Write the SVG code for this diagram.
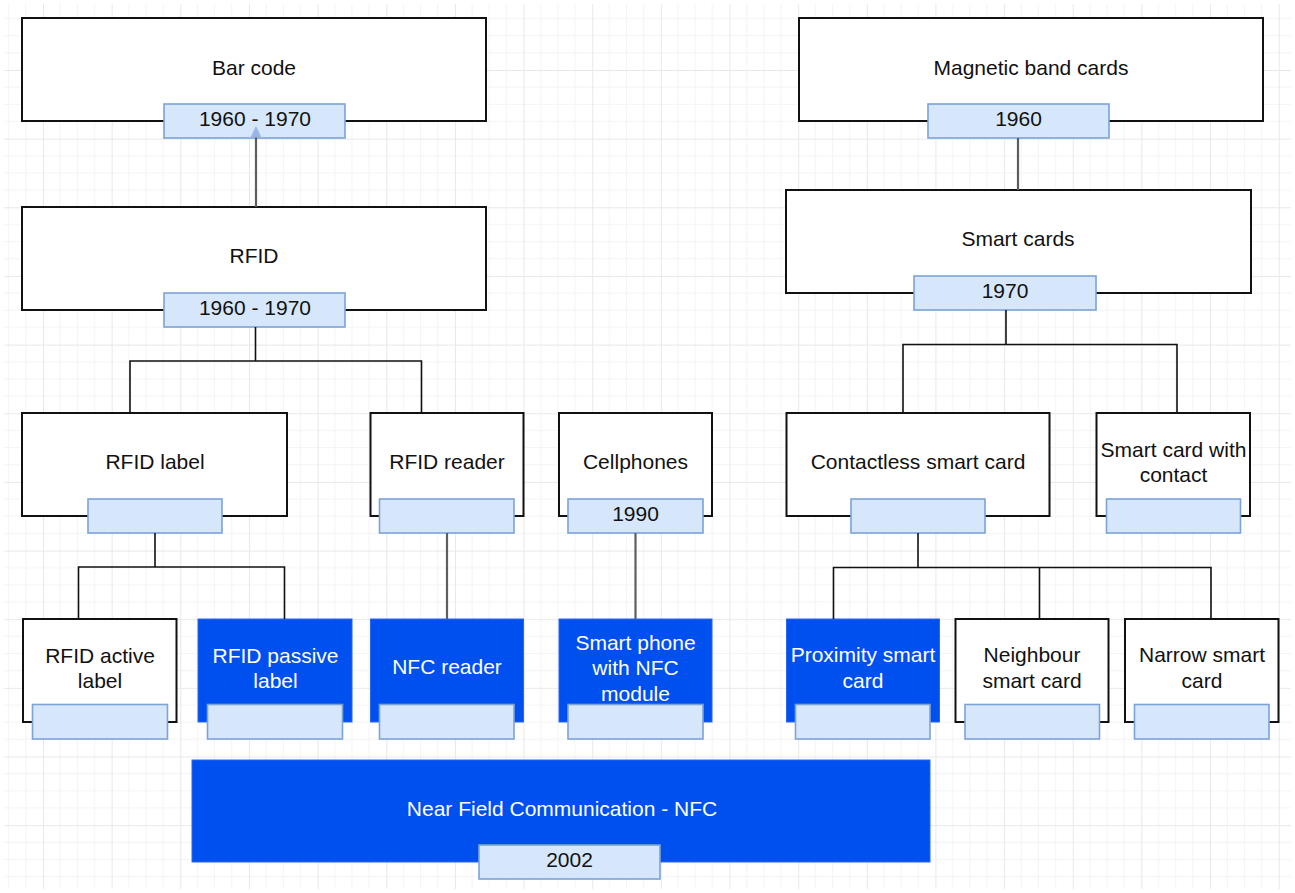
<svg xmlns="http://www.w3.org/2000/svg" width="1295" height="893" viewBox="0 0 1295 893">
  <defs>
    <pattern id="grid" patternUnits="userSpaceOnUse" x="43" y="1.35" width="68.65" height="68.65">
      <path d="M17.16 0V68.65M34.33 0V68.65M51.49 0V68.65M0 17.16H68.65M0 34.33H68.65M0 51.49H68.65" stroke="#f4f4f4" stroke-width="1" fill="none"/>
      <path d="M0.5 0V68.65M0 0.5H68.65" stroke="#e8e8e8" stroke-width="1" fill="none"/>
    </pattern>
    <style>
      .n { fill: #ffffff; stroke: #111111; stroke-width: 2; }
      .b { fill: #0050ef; stroke: #2a66ee; stroke-width: 1; }
      .l { fill: #d6e7fc; stroke: #7ca3d6; stroke-width: 1.6; }
      .t { font-family: "Liberation Sans", Arial, Helvetica, sans-serif; font-size: 21px; text-anchor: middle; fill: #111111; }
      .w { fill: #ffffff; }
      .k { fill: none; stroke: #111111; stroke-width: 1.6; }
      .g { fill: none; stroke: #5e5e5e; stroke-width: 2.2; }
    </style>
  </defs>
  <rect x="0" y="0" width="1295" height="893" fill="#ffffff"/>
  <rect x="4" y="4" width="1287" height="885" fill="url(#grid)"/>

  <g id="bar-code">
    <rect class="n" x="22" y="18" width="464" height="103"/>
    <text class="t" x="254" y="75">Bar code</text>
    <rect class="l" x="164" y="104" width="181" height="34"/>
    <text class="t" x="255" y="126">1960 - 1970</text>
  </g>
  <g id="rfid">
    <rect class="n" x="22" y="207" width="464" height="103"/>
    <text class="t" x="254" y="263">RFID</text>
    <rect class="l" x="164" y="293" width="181" height="34"/>
    <text class="t" x="255" y="315">1960 - 1970</text>
  </g>
  <g id="magnetic-band-cards">
    <rect class="n" x="799" y="18" width="464" height="103"/>
    <text class="t" x="1031" y="75">Magnetic band cards</text>
    <rect class="l" x="928" y="104" width="181" height="34"/>
    <text class="t" x="1018.5" y="126">1960</text>
  </g>
  <g id="smart-cards">
    <rect class="n" x="786" y="190" width="465" height="103"/>
    <text class="t" x="1018" y="246">Smart cards</text>
    <rect class="l" x="914" y="276" width="182" height="34"/>
    <text class="t" x="1005" y="298">1970</text>
  </g>
  <g id="rfid-label">
    <rect class="n" x="22" y="413" width="265" height="103"/>
    <text class="t" x="155" y="469">RFID label</text>
    <rect class="l" x="88" y="499" width="134" height="34"/>
  </g>
  <g id="rfid-reader">
    <rect class="n" x="370.5" y="413" width="153" height="103"/>
    <text class="t" x="447" y="469">RFID reader</text>
    <rect class="l" x="379.5" y="499" width="134.5" height="34"/>
  </g>
  <g id="cellphones">
    <rect class="n" x="559" y="413" width="153" height="103"/>
    <text class="t" x="635.5" y="469">Cellphones</text>
    <rect class="l" x="568" y="499" width="135" height="34"/>
    <text class="t" x="635.5" y="521">1990</text>
  </g>
  <g id="contactless-smart-card">
    <rect class="n" x="786.5" y="413" width="263" height="103"/>
    <text class="t" x="918" y="469">Contactless smart card</text>
    <rect class="l" x="851" y="499" width="134" height="34"/>
  </g>
  <g id="smart-card-with-contact">
    <rect class="n" x="1096.5" y="413" width="153.5" height="103"/>
    <text class="t" x="1173.5" y="457">Smart card with</text>
    <text class="t" x="1173.5" y="482">contact</text>
    <rect class="l" x="1106.5" y="499" width="134" height="34"/>
  </g>
  <g id="rfid-active-label">
    <rect class="n" x="23" y="619" width="153.5" height="103"/>
    <text class="t" x="100" y="662.5">RFID active</text>
    <text class="t" x="100" y="687.5">label</text>
    <rect class="l" x="32.5" y="704.5" width="135" height="34.5"/>
  </g>
  <g id="rfid-passive-label">
    <rect class="b" x="198" y="619" width="154" height="103"/>
    <text class="t w" x="275.5" y="662.5">RFID passive</text>
    <text class="t w" x="275.5" y="687.5">label</text>
    <rect class="l" x="207.5" y="704.5" width="135" height="34.5"/>
  </g>
  <g id="nfc-reader">
    <rect class="b" x="370.5" y="619" width="153" height="103"/>
    <text class="t w" x="447" y="674">NFC reader</text>
    <rect class="l" x="379.5" y="704.5" width="134.5" height="34.5"/>
  </g>
  <g id="smart-phone-nfc">
    <rect class="b" x="559" y="619" width="153" height="103"/>
    <text class="t w" x="635.5" y="649.5">Smart phone</text>
    <text class="t w" x="635.5" y="675">with NFC</text>
    <text class="t w" x="635.5" y="700.5">module</text>
    <rect class="l" x="568" y="704.5" width="135" height="34.5"/>
  </g>
  <g id="proximity-smart-card">
    <rect class="b" x="786.5" y="619" width="153" height="103"/>
    <text class="t w" x="863" y="662">Proximity smart</text>
    <text class="t w" x="863" y="687.5">card</text>
    <rect class="l" x="795.5" y="704.5" width="134.5" height="34.5"/>
  </g>
  <g id="neighbour-smart-card">
    <rect class="n" x="955.5" y="619" width="153" height="103"/>
    <text class="t" x="1032" y="662">Neighbour</text>
    <text class="t" x="1032" y="687.5">smart card</text>
    <rect class="l" x="965" y="704.5" width="134.5" height="34.5"/>
  </g>
  <g id="narrow-smart-card">
    <rect class="n" x="1125" y="619" width="153.5" height="103"/>
    <text class="t" x="1202" y="662">Narrow smart</text>
    <text class="t" x="1202" y="687.5">card</text>
    <rect class="l" x="1134.5" y="704.5" width="134.5" height="34.5"/>
  </g>
  <g id="nfc">
    <rect class="b" x="192" y="760" width="738" height="102"/>
    <text class="t w" x="562" y="816">Near Field Communication - NFC</text>
    <rect class="l" x="479" y="845" width="181" height="34"/>
    <text class="t" x="569.5" y="867">2002</text>
  </g>

  <g id="connectors">
    <path class="g" d="M256 207V137"/>
    <polygon points="256,126 250.5,137.5 261.5,137.5" fill="#98b6e4"/>
    <path class="g" d="M1018 138V190"/>
    <path class="k" d="M1006 310V344.5M903 413V344.5H1177V413"/>
    <path class="k" d="M255.5 327V361M130 413V361H421.5V413"/>
    <path class="k" d="M155 533V567M78.5 619V567H284.5V619"/>
    <path class="g" d="M447 533V619"/>
    <path class="g" d="M635.5 533V619"/>
    <path class="k" d="M918 533V567.5M833.5 619V567.5H1211V619M1039.5 567.5V619"/>
  </g>
</svg>
